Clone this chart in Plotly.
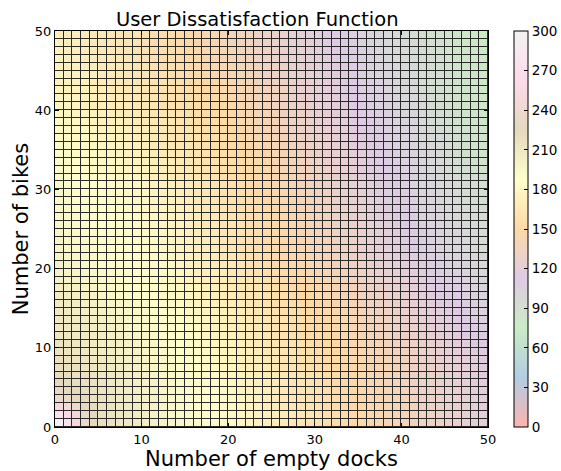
import plotly.graph_objects as go

# ---- data ----
empty_docks = list(range(50))          # column categories (x)
bikes = list(range(50))                # row categories (y)
dock_edges = list(range(51))           # cell boundaries on x
bike_edges = list(range(51))           # cell boundaries on y
axis_ticks = [0, 10, 20, 30, 40, 50]
colorbar_ticks = [0, 30, 60, 90, 120, 150, 180, 210, 240, 270, 300]

# dissatisfaction[bikes][empty_docks]
dissatisfaction = [
    [298,276,250,234,225,219,216,212,210,207,204,202,200,197,196,193,191,188,186,185,182,179,176,174,172,170,168,166,164,162,160,157,155,153,151,149,147,145,143,141,138,136,134,132,130,128,126,124,122,120],
    [276,260,246,232,224,218,215,212,209,206,204,201,199,196,195,192,190,188,185,184,181,178,176,174,172,170,168,166,164,162,160,157,155,153,151,149,147,145,143,141,138,136,134,132,130,128,126,124,122,120],
    [252,247,237,228,221,217,214,210,208,206,203,201,198,196,194,192,189,187,185,183,181,178,175,173,171,169,167,165,163,161,159,156,154,152,150,148,146,144,142,140,137,135,133,131,129,127,125,123,121,119],
    [236,234,228,224,218,216,213,210,207,205,202,200,198,195,194,191,189,186,184,183,180,177,174,172,170,168,166,164,162,160,158,155,153,151,149,147,145,143,141,139,136,134,132,130,128,126,124,122,120,118],
    [229,227,223,220,216,214,212,208,206,204,201,200,197,195,193,191,188,186,184,182,180,177,174,172,170,168,166,164,162,160,158,155,153,151,149,147,145,143,141,139,136,134,132,130,128,126,124,122,120,118],
    [224,222,220,218,215,213,210,207,205,203,200,199,197,194,193,190,188,185,183,182,179,176,173,171,169,167,165,163,161,159,157,154,152,150,148,146,144,142,140,138,135,133,131,129,127,125,123,121,119,117],
    [220,219,217,215,213,211,209,206,204,202,200,198,196,193,192,189,187,185,182,181,179,176,173,171,169,167,165,163,161,159,157,154,152,150,148,146,144,142,140,138,134,132,130,128,126,124,122,120,118,116],
    [218,217,215,213,211,209,207,205,203,201,199,197,195,193,191,189,186,184,182,180,178,175,172,170,168,166,164,162,160,158,156,153,151,149,147,145,143,141,139,137,134,132,130,128,126,124,122,120,118,116],
    [216,215,213,212,209,208,206,203,202,200,198,197,194,192,190,188,186,183,181,179,177,174,172,170,168,166,163,161,159,157,155,153,151,148,146,144,142,140,138,136,133,131,129,127,125,123,121,119,117,115],
    [214,213,211,210,208,206,205,202,201,200,197,196,193,191,190,187,185,183,180,178,176,173,171,169,167,165,163,161,158,156,154,152,150,148,145,143,141,139,137,135,133,131,128,126,124,122,120,118,116,114],
    [213,212,210,209,206,205,203,201,199,198,196,194,192,190,188,186,184,182,179,178,176,173,170,168,166,164,162,160,158,155,153,151,149,147,144,142,140,138,136,134,131,129,127,125,123,121,119,117,115,113],
    [211,210,208,207,205,204,201,200,198,197,195,193,191,188,187,185,183,180,178,176,174,171,169,167,165,162,160,158,156,153,151,149,147,145,142,140,138,136,134,131,129,127,125,123,121,119,116,114,112,110],
    [210,209,207,206,204,203,200,199,197,196,194,192,190,187,186,184,182,179,177,175,173,170,168,166,164,161,159,157,155,152,150,148,146,144,141,139,137,135,133,130,128,126,124,122,120,118,115,113,111,109],
    [209,208,206,205,203,201,199,198,196,194,193,191,189,186,185,183,181,179,176,174,172,170,168,166,164,161,159,157,155,152,150,148,146,144,141,139,137,135,132,130,127,125,123,121,119,117,114,112,110,108],
    [208,206,205,203,201,200,198,196,195,193,192,190,187,185,184,182,179,177,175,173,171,169,166,164,162,159,157,155,153,150,148,146,144,142,139,137,135,133,131,128,126,124,122,119,117,115,113,110,108,106],
    [206,205,203,202,200,199,197,195,193,192,191,188,186,185,183,181,179,176,174,172,170,168,165,163,161,158,156,154,152,149,147,145,143,141,138,136,134,132,130,127,125,123,121,118,116,114,112,109,107,105],
    [205,203,202,199,198,196,195,192,191,189,188,186,184,182,181,179,177,175,173,171,169,166,164,162,160,157,155,153,150,148,146,143,141,139,137,134,132,130,127,125,123,121,118,116,114,112,110,107,105,103],
    [204,202,200,198,197,195,193,191,190,188,187,185,183,182,180,178,176,174,172,170,168,166,163,161,159,156,154,152,150,147,145,143,140,138,136,133,131,129,127,124,122,120,118,115,113,111,109,106,104,102],
    [202,200,199,197,196,193,192,190,189,187,186,184,182,181,179,177,175,173,171,169,167,165,162,160,158,155,153,151,149,146,144,142,139,137,135,132,130,128,126,123,121,119,117,114,112,110,108,105,103,101],
    [201,199,198,196,195,193,192,190,189,187,185,184,182,180,178,176,174,172,170,168,166,164,161,159,157,154,152,150,148,145,143,140,138,136,133,131,128,126,124,121,119,117,115,112,110,108,106,103,101,99],
    [200,198,197,195,194,192,191,189,188,186,184,183,181,179,177,175,173,171,169,167,165,163,160,158,156,153,151,149,147,144,142,139,137,135,132,130,127,125,123,120,118,116,114,111,109,107,105,102,100,98],
    [199,197,196,194,193,191,190,188,187,185,183,182,180,178,176,174,172,170,168,166,164,161,159,156,154,152,149,147,145,142,140,137,135,133,130,128,125,123,121,118,116,114,111,109,107,104,102,100,97,95],
    [198,196,195,193,192,190,189,187,186,184,182,181,179,177,175,173,171,169,167,165,163,160,158,155,153,151,148,146,144,141,139,136,134,132,129,127,124,122,120,117,115,113,110,108,106,103,101,99,96,94],
    [198,196,195,193,192,190,189,187,185,184,182,180,179,177,175,173,171,169,167,165,163,160,158,155,153,151,148,146,143,141,139,136,134,131,129,127,124,122,119,117,115,112,110,108,106,103,101,99,96,94],
    [197,195,194,192,191,189,188,186,185,183,181,180,178,176,174,172,170,168,166,164,162,159,157,154,152,150,147,145,143,140,138,135,133,131,128,126,123,121,119,116,114,112,109,107,105,102,100,98,95,93],
    [196,195,193,192,190,189,187,186,184,182,181,179,177,175,173,172,169,167,165,163,161,159,156,154,152,149,147,144,142,140,137,135,132,130,128,125,123,120,118,116,113,111,109,106,104,102,100,97,95,92],
    [196,194,193,191,190,188,187,185,184,182,180,179,177,175,173,171,169,167,165,163,161,158,156,153,151,148,145,143,141,138,136,133,131,129,126,124,121,119,117,114,112,110,107,105,103,100,98,96,93,91],
    [195,194,192,190,189,187,186,184,182,181,179,177,176,174,172,170,168,166,164,162,159,157,155,152,150,147,145,142,140,138,135,133,130,128,126,123,121,118,116,114,111,109,106,104,102,100,97,95,92,90],
    [194,193,191,190,188,187,185,183,182,180,179,177,175,173,171,169,167,165,163,161,159,156,154,151,149,147,144,142,139,137,135,132,130,127,125,122,120,118,115,113,110,108,106,103,101,99,96,94,92,89],
    [194,192,191,189,187,186,184,183,181,179,178,176,174,172,170,168,166,164,162,160,158,155,153,150,148,145,143,141,138,136,133,131,128,126,124,121,119,116,114,111,109,107,104,102,100,97,95,92,90,88],
    [193,191,190,188,187,185,183,182,180,179,177,175,173,171,169,168,165,163,161,159,157,155,152,150,147,145,142,140,137,135,133,130,128,125,123,120,118,116,113,111,108,106,104,101,99,97,94,92,89,87],
    [192,190,189,187,185,184,182,181,179,178,176,174,172,170,168,167,164,162,160,158,156,154,151,149,146,144,142,139,137,134,132,129,127,125,122,120,117,115,113,110,108,105,103,101,98,96,94,91,89,87],
    [190,189,187,186,184,183,181,179,178,176,175,173,171,169,167,165,163,161,159,157,155,152,150,147,145,143,140,138,135,133,131,128,126,123,121,118,116,114,111,109,106,104,102,99,97,95,92,90,88,85],
    [189,188,186,184,183,181,180,178,177,175,174,172,170,168,166,164,162,160,158,156,154,151,149,147,144,142,139,137,135,132,130,127,125,123,120,118,115,113,111,108,106,104,101,99,97,94,92,90,87,85],
    [188,186,185,183,182,180,178,177,175,174,172,170,168,167,165,163,161,159,157,155,152,150,148,145,143,140,138,136,133,131,129,126,124,121,119,117,114,112,109,107,105,102,100,98,95,93,91,88,86,84],
    [187,185,183,182,180,179,177,176,174,173,171,169,167,165,164,162,160,158,156,154,151,149,147,144,142,140,137,135,133,130,128,125,123,121,118,116,114,111,109,106,104,102,100,97,95,93,90,88,86,84],
    [185,184,182,181,179,178,176,174,173,171,170,168,166,164,163,161,159,157,155,153,151,148,146,143,141,139,136,134,132,129,127,125,122,120,118,115,113,111,108,106,104,101,99,97,95,92,90,88,85,83],
    [184,182,181,179,178,176,175,173,172,170,169,167,165,163,161,159,157,155,153,151,149,147,145,142,140,137,135,133,130,128,126,123,121,119,116,114,112,109,107,105,102,100,98,96,93,91,89,86,84,82],
    [183,181,180,178,177,175,174,172,170,169,167,166,164,162,160,158,156,154,152,150,148,146,144,141,139,137,134,132,130,127,125,123,120,118,116,113,111,109,106,104,102,100,97,95,93,91,88,86,84,82],
    [181,180,178,177,175,174,172,171,169,168,166,164,163,161,159,157,155,153,151,149,147,145,143,140,138,136,133,131,129,126,124,122,119,117,115,112,110,108,105,103,101,98,96,94,92,90,87,85,83,81],
    [180,178,177,175,174,172,171,169,168,166,165,163,161,160,158,156,154,152,150,148,146,144,141,139,137,134,132,130,128,125,123,121,118,116,114,111,109,107,105,102,100,98,96,93,91,89,87,84,82,80],
    [179,178,176,175,173,172,170,169,167,166,164,162,160,159,157,155,153,151,149,147,145,143,140,138,136,134,131,129,127,124,122,120,118,115,113,111,108,106,104,101,99,97,95,93,90,88,86,84,81,79],
    [178,177,175,174,172,171,169,168,166,165,163,161,160,158,156,154,152,150,148,146,144,142,140,137,135,133,131,128,126,124,122,119,117,115,113,110,108,106,103,101,99,97,94,92,90,88,86,83,81,79],
    [177,176,174,173,171,170,168,167,165,164,162,161,159,157,155,153,152,150,148,146,144,141,139,137,135,132,130,128,125,123,121,119,116,114,112,109,107,105,103,100,98,96,94,92,89,87,85,83,80,78],
    [176,175,173,172,170,169,167,166,164,163,162,160,158,156,154,153,151,149,147,145,143,141,138,136,134,132,129,127,125,123,120,118,116,114,111,109,107,104,102,100,98,95,93,91,89,87,85,82,80,78],
    [176,174,173,171,170,168,167,165,164,162,161,159,157,156,154,152,150,148,146,144,142,140,138,136,133,131,129,127,124,122,120,118,115,113,111,108,106,104,102,99,97,95,93,91,89,86,84,82,80,78],
    [175,173,172,170,169,167,166,164,163,161,160,158,156,155,153,151,149,147,145,143,141,139,137,134,132,130,128,126,123,121,119,117,114,112,110,108,105,103,101,99,96,94,92,90,88,86,83,81,79,77],
    [174,172,171,169,168,166,165,163,162,160,159,157,156,154,152,150,148,146,144,142,141,138,136,134,132,129,127,125,123,120,118,116,114,111,109,107,105,103,100,98,96,94,92,89,87,85,83,81,78,76],
    [173,171,170,168,167,165,164,162,161,159,158,156,155,153,151,149,147,145,143,141,140,137,135,133,131,129,126,124,122,120,118,115,113,111,109,106,104,102,100,97,95,93,91,89,87,85,82,80,78,76],
    [172,171,169,168,166,165,163,162,160,159,157,156,154,152,150,149,147,145,143,141,139,137,135,132,130,128,126,124,121,119,117,114,112,110,108,106,103,101,99,97,94,92,90,88,86,84,82,79,77,75],
]

# matplotlib "Pastel1" colours, spread evenly over the colour range
pastel1 = ["#fbb4ae", "#b3cde3", "#ccebc5", "#decbe4", "#fed9a6",
           "#ffffcc", "#e5d8bd", "#fddaec", "#f2f2f2"]
colorscale = [[i / (len(pastel1) - 1), c] for i, c in enumerate(pastel1)]

FONT = "DejaVu Sans"

fig = go.Figure(
    go.Heatmap(
        x=dock_edges,
        y=bike_edges,
        z=dissatisfaction,
        zmin=0,
        zmax=300,
        colorscale=colorscale,
        xgap=1,
        ygap=1,
        colorbar=dict(
            thickness=14,
            len=1,
            lenmode="fraction",
            x=1.06,
            xanchor="left",
            y=0.5,
            yanchor="middle",
            xpad=0,
            ypad=0,
            outlinewidth=1,
            outlinecolor="black",
            tickmode="array",
            tickvals=colorbar_ticks,
            ticks="inside",
            ticklen=4,
            tickcolor="black",
            tickfont=dict(family=FONT, size=13.5, color="black"),
        ),
    )
)

axis_common = dict(
    range=[0, 50],
    tickmode="array",
    tickvals=axis_ticks,
    ticks="inside",
    ticklen=4,
    tickcolor="black",
    showline=True,
    linecolor="black",
    linewidth=1,
    mirror="ticks",
    showgrid=False,
    zeroline=False,
    tickfont=dict(family=FONT, size=13, color="black"),
)

fig.update_xaxes(
    **axis_common,
    title=dict(text="Number of empty docks", font=dict(family=FONT, size=21, color="black"), standoff=0),
)
fig.update_yaxes(
    **axis_common,
    title=dict(text="Number of bikes", font=dict(family=FONT, size=21, color="black"), standoff=0),
)

fig.update_layout(
    width=561,
    height=471,
    margin=dict(l=55, r=73, t=31, b=44, autoexpand=False),
    paper_bgcolor="white",
    plot_bgcolor="#2a2a2a",
    font=dict(family=FONT, color="black"),
    title=dict(
        text="User Dissatisfaction Function",
        x=0.467,
        xref="paper",
        xanchor="center",
        y=1 - 19.5 / 471,
        yref="container",
        yanchor="middle",
        font=dict(family=FONT, size=19.5, color="black"),
    ),
)

# remove the browser's default 8px page margin so the figure sits at the window's corner
fig.write_html(
    "out.html",
    config={"displayModeBar": False},
    post_script="document.body.style.margin='0';document.body.style.padding='0';",
)
